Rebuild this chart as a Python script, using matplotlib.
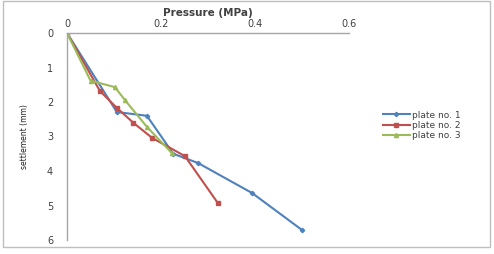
import matplotlib
matplotlib.use("Agg")
import matplotlib.pyplot as plt
from matplotlib.patches import Rectangle

p1_x = [0, 0.106, 0.17, 0.226, 0.279, 0.394, 0.50]
p1_y = [0, 2.29, 2.40, 3.50, 3.77, 4.64, 5.71]
p2_x = [0, 0.070, 0.106, 0.141, 0.181, 0.251, 0.321]
p2_y = [0, 1.68, 2.17, 2.60, 3.04, 3.57, 4.93]
p3_x = [0, 0.050, 0.102, 0.123, 0.170, 0.223]
p3_y = [0, 1.38, 1.57, 1.94, 2.72, 3.48]
names = ["plate no. 1", "plate no. 2", "plate no. 3"]
x_ticks = [0, 0.2, 0.4, 0.6]
y_ticks = [0, 1, 2, 3, 4, 5, 6]

W, H = 494, 254
fig = plt.figure(figsize=(W/100, H/100), dpi=100)
fig.patch.set_facecolor("white")
fig.add_artist(Rectangle((3/W, (H-247)/H), 487/W, 246/H, transform=fig.transFigure,
                         fill=False, edgecolor="#bfbfbf", linewidth=1.0))

ax = fig.add_axes([67/W, (H-240)/H, (349-67)/W, (240-33)/H])
ax.plot(p1_x, p1_y, color="#4F81BD", lw=1.5, marker="D", ms=2.2, label=names[0])
ax.plot(p2_x, p2_y, color="#C0504D", lw=1.5, marker="s", ms=3.0, label=names[1])
ax.plot(p3_x, p3_y, color="#9BBB59", lw=1.5, marker="^", ms=3.0, label=names[2])

ax.set_xlim(0, 0.6)
ax.set_ylim(6, 0)
ax.set_xticks(x_ticks)
ax.set_xticklabels(["0", "0.2", "0.4", "0.6"])
ax.set_yticks(y_ticks)
ax.xaxis.tick_top()
ax.xaxis.set_label_position("top")
ax.tick_params(axis="x", length=0, labelsize=7, labelcolor="#404040", pad=3)
ax.tick_params(axis="y", length=0, labelsize=7, labelcolor="#404040", pad=10)
for s in ["right", "bottom"]:
    ax.spines[s].set_visible(False)
for s in ["top", "left"]:
    ax.spines[s].set_color("#a6a6a6")
    ax.spines[s].set_linewidth(1.0)
ax.set_xlabel("Pressure (MPa)", fontsize=7.5, fontweight="bold", color="#404040", labelpad=2)
ax.set_ylabel("settlement (mm)", fontsize=5.5, color="#202020", labelpad=13)

leg = ax.legend(loc="upper left", bbox_to_anchor=(378/W, (H-106)/H), bbox_transform=fig.transFigure,
                frameon=False, fontsize=6.5, handlelength=3.0, handletextpad=0.3,
                labelspacing=0.15, borderpad=0)
for t in leg.get_texts():
    t.set_color("#404040")

fig.savefig("out.png", dpi=100)
